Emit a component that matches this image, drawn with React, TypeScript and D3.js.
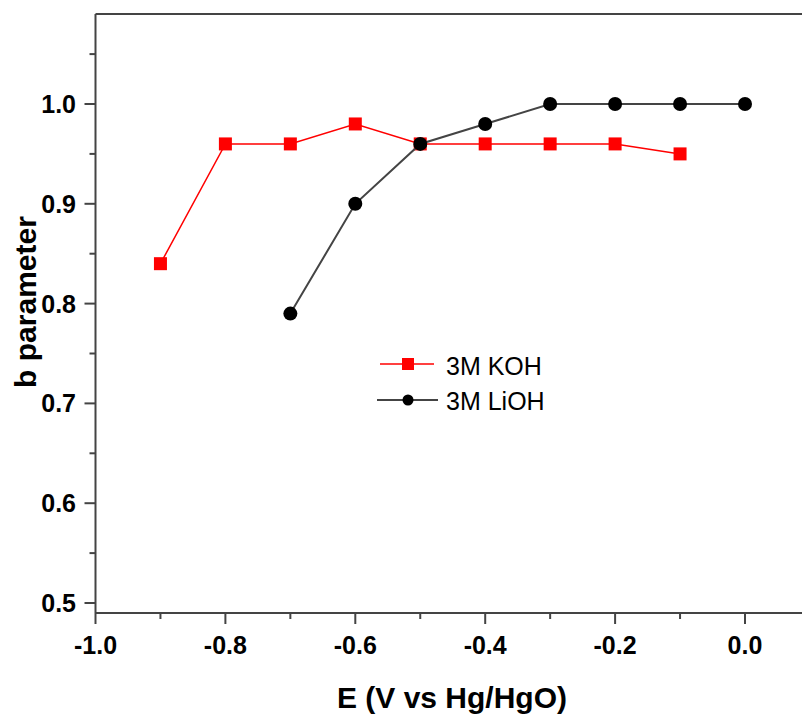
import React from "react";
import * as d3 from "d3";

const kohE = [-0.9, -0.8, -0.7, -0.6, -0.5, -0.4, -0.3, -0.2, -0.1];
const kohB = [0.84, 0.96, 0.96, 0.98, 0.96, 0.96, 0.96, 0.96, 0.95];
const liohE = [-0.7, -0.6, -0.5, -0.4, -0.3, -0.2, -0.1, 0.0];
const liohB = [0.79, 0.9, 0.96, 0.98, 1.0, 1.0, 1.0, 1.0];
const xMajor = [-1.0, -0.8, -0.6, -0.4, -0.2, 0.0];
const xMinor = [-0.9, -0.7, -0.5, -0.3, -0.1];
const yMajor = [0.5, 0.6, 0.7, 0.8, 0.9, 1.0];
const yMinor = [0.55, 0.65, 0.75, 0.85, 0.95, 1.05];
const seriesNames = ["3M KOH", "3M LiOH"];

const W = 802, H = 717;
const left = 95.5, right = 802, top = 14, bottom = 613;

export default function App() {
  const x = d3.scaleLinear().domain([-1.0, 0.0]).range([left, 745]);
  const y = d3.scaleLinear().domain([0.5, 1.0]).range([603, 104]);
  const line = d3.line<[number, number]>().x(d => x(d[0])).y(d => y(d[1]));
  const koh: [number, number][] = kohE.map((e, i) => [e, kohB[i]]);
  const lioh: [number, number][] = liohE.map((e, i) => [e, liohB[i]]);
  const axisColor = "#444";
  const font = "'Liberation Sans', Arial, sans-serif";
  const sq = 13;
  return (
    <svg width={W} height={H} style={{ position: "absolute", left: 0, top: 0, background: "#fff" }} fontFamily={font}>
      {/* frame */}
      <line x1={left} x2={right} y1={top} y2={top} stroke={axisColor} strokeWidth={2} />
      <line x1={left} x2={right} y1={bottom} y2={bottom} stroke={axisColor} strokeWidth={2} />
      <line x1={left} x2={left} y1={top} y2={bottom} stroke={axisColor} strokeWidth={2} />
      {/* x ticks */}
      {xMajor.map(v => (
        <g key={"xm" + v}>
          <line x1={x(v)} x2={x(v)} y1={bottom} y2={bottom + 11} stroke={axisColor} strokeWidth={2} />
          <text x={x(v)} y={654} textAnchor="middle" fontSize={25} fontWeight="bold" fill="#000">
            {v.toFixed(1)}
          </text>
        </g>
      ))}
      {xMinor.map(v => (
        <line key={"xn" + v} x1={x(v)} x2={x(v)} y1={bottom} y2={bottom + 6} stroke={axisColor} strokeWidth={2} />
      ))}
      {/* y ticks */}
      {yMajor.map(v => (
        <g key={"ym" + v}>
          <line x1={left - 11} x2={left} y1={y(v)} y2={y(v)} stroke={axisColor} strokeWidth={2} />
          <text x={76} y={y(v)} dy="0.36em" textAnchor="end" fontSize={25} fontWeight="bold" fill="#000">
            {v.toFixed(1)}
          </text>
        </g>
      ))}
      {yMinor.map(v => (
        <line key={"yn" + v} x1={left - 6} x2={left} y1={y(v)} y2={y(v)} stroke={axisColor} strokeWidth={2} />
      ))}
      {/* axis titles */}
      <text x={452} y={708} textAnchor="middle" fontSize={30} fontWeight="bold" fill="#000">
        E (V vs Hg/HgO)
      </text>
      <text transform={`translate(36,${302}) rotate(-90)`} textAnchor="middle" fontSize={30} fontWeight="bold" fill="#000">
        b parameter
      </text>
      {/* KOH series */}
      <path d={line(koh) || ""} fill="none" stroke="#ff0000" strokeWidth={1.5} />
      {koh.map((d, i) => (
        <rect key={"k" + i} x={x(d[0]) - sq / 2} y={y(d[1]) - sq / 2} width={sq} height={sq} fill="#ff0000" />
      ))}
      {/* LiOH series */}
      <path d={line(lioh) || ""} fill="none" stroke="#444" strokeWidth={2} />
      {lioh.map((d, i) => (
        <circle key={"l" + i} cx={x(d[0])} cy={y(d[1])} r={7} fill="#000" />
      ))}
      {/* legend */}
      <line x1={380} x2={434} y1={364} y2={364} stroke="#ff0000" strokeWidth={1.5} />
      <rect x={408 - 6} y={364 - 6} width={12} height={12} fill="#ff0000" />
      <text x={446} y={375} fontSize={25} fill="#000">{seriesNames[0]}</text>
      <line x1={377} x2={438} y1={400} y2={400} stroke="#444" strokeWidth={2} />
      <circle cx={408} cy={400} r={5.5} fill="#000" />
      <text x={446} y={410} fontSize={25} fill="#000">{seriesNames[1]}</text>
    </svg>
  );
}
